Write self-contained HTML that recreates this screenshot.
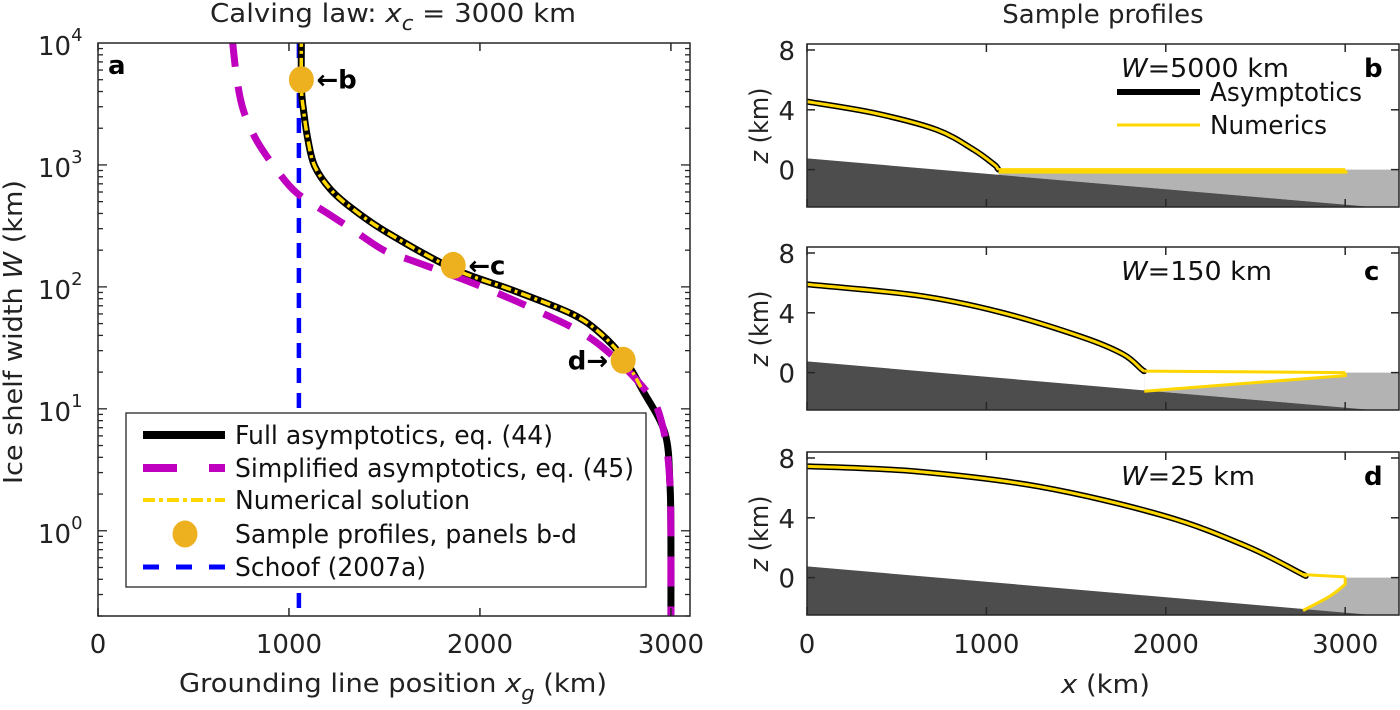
<!DOCTYPE html>
<html><head><meta charset="utf-8"><style>
html,body{margin:0;padding:0;background:#fff;}
svg{display:block;font-family:"DejaVu Sans","Liberation Sans",sans-serif;}
</style></head><body>
<svg id="fig" width="1400" height="710" viewBox="0 0 1400 710" xmlns="http://www.w3.org/2000/svg">
<defs>
<clipPath id="clipA"><rect x="98" y="43" width="592" height="573"/></clipPath>
<clipPath id="clip0"><rect x="807" y="44" width="592" height="163"/></clipPath>
<clipPath id="clip1"><rect x="807" y="247" width="592" height="163"/></clipPath>
<clipPath id="clip2"><rect x="807" y="452" width="592" height="163"/></clipPath>
</defs>
<g id="panelA"></g>
<g id="panelR"></g>
<text x="210" y="22" font-size="26" fill="#222" textLength="366" lengthAdjust="spacingAndGlyphs">Calving law: <tspan font-style="italic">x</tspan><tspan font-style="italic" font-size="20" dy="8">c</tspan><tspan dy="-8"> = 3000 km</tspan></text>
<text x="179" y="692" font-size="26" fill="#222" textLength="428" lengthAdjust="spacingAndGlyphs">Grounding line position <tspan font-style="italic">x</tspan><tspan font-style="italic" font-size="20" dy="8">g</tspan><tspan dy="-8"> (km)</tspan></text>
<text transform="translate(22,484) rotate(-90)" font-size="26" fill="#222" textLength="304" lengthAdjust="spacingAndGlyphs">Ice shelf width <tspan font-style="italic">W</tspan> (km)</text>
<text x="1103" y="23" font-size="26" fill="#222" text-anchor="middle">Sample profiles</text>
<text x="1061" y="693" font-size="26" fill="#222" textLength="89" lengthAdjust="spacingAndGlyphs"><tspan font-style="italic">x</tspan> (km)</text>
<text x="108" y="74" font-size="26" font-weight="bold" fill="#000">a</text>
</svg>
<script>
// ---------- Panel a data ----------
const xgTicks = [0, 1000, 2000, 3000];
const wTickExps = [0, 1, 2, 3, 4];
const fullXg = [1065,1065,1076,1100,1135,1217,1333,1520,1859,2175,2479,2630,2759,2853,2969,2995,3000,3000];
const fullLogW = [4.05,3.64,3.45,3.20,2.99,2.80,2.64,2.44,2.15,1.97,1.78,1.62,1.40,1.15,0.80,0.39,-0.02,-0.72];
const simpXg = [702,726,761,831,936,1041,1205,1333,1497,1637,1964,2292,2596,2853,2948,2995,3000,3000];
const simpLogW = [4.05,3.72,3.45,3.20,2.96,2.77,2.60,2.47,2.30,2.22,2.03,1.81,1.56,1.18,0.91,0.39,-0.57,-0.72];
const numXg = [1065,1065,1076,1100,1135,1217,1333,1520,1859,2175,2479,2630,2759,2853];
const numLogW = [4.05,3.64,3.45,3.20,2.99,2.80,2.64,2.44,2.15,1.97,1.78,1.62,1.40,1.15];
const sampleXg = [1065, 1860, 2750];
const sampleW = [5000, 150, 25];
const sampleLabels = ['b','c','d'];
const schoofXg = 1052;

// ---------- Right panels data ----------
const profXTicks = [0, 1000, 2000, 3000];
const profZTicks = [0, 4, 8];
const bedX = [0, 3300];
const bedZ = [0.75, -2.65];
const panelWLabels = ['5000','150','25'];
const surfX_b = [0,376,722,929,1045,1062,1068];
const surfZ_b = [4.55,3.78,2.67,1.33,0.32,0.08,0.0];
const shelfTopX_b = [1068,3000];
const shelfTopZ_b = [-0.05,-0.05];
const shelfBotX_b = [1068,3000];
const shelfBotZ_b = [-0.12,-0.12];
const surfX_c = [0,607,1069,1531,1761,1865,1880];
const surfZ_c = [5.9,5.18,4.07,2.39,1.24,0.22,0.1];
const shelfTopX_c = [1880,3000];
const shelfTopZ_c = [0.1,0.0];
const shelfBotX_c = [1880,3000];
const shelfBotZ_c = [-1.24,-0.2];
const surfX_d = [0,607,1297,1992,2454,2755,2765];
const surfZ_d = [7.45,7.1,6.08,4.13,2.08,0.27,0.2];
const shelfTopX_d = [2765,3000];
const shelfTopZ_d = [0.2,0.05];
const shelfBotX_d = [2765,2916,3000];
const shelfBotZ_d = [-2.2,-1.23,-0.45];

const NS = 'http://www.w3.org/2000/svg';
function mk(tag, attrs, parent){ const e=document.createElementNS(NS,tag); for(const k in attrs) e.setAttribute(k,attrs[k]); parent.appendChild(e); return e; }
function pathFrom(xs, ys, fx, fy){ return xs.map((x,i)=>(i?'L':'M')+fx(x).toFixed(1)+','+fy(ys[i]).toFixed(1)).join(' '); }
function smoothFrom(xs, ys, fx, fy){
  const P = xs.map((x,i)=>[fx(x), fy(ys[i])]);
  let d = 'M'+P[0][0].toFixed(1)+','+P[0][1].toFixed(1);
  for(let i=0;i<P.length-1;i++){
    const p0=P[Math.max(0,i-1)], p1=P[i], p2=P[i+1], p3=P[Math.min(P.length-1,i+2)];
    const c1=[p1[0]+(p2[0]-p0[0])/6, p1[1]+(p2[1]-p0[1])/6];
    const c2=[p2[0]-(p3[0]-p1[0])/6, p2[1]-(p3[1]-p1[1])/6];
    d += ' C'+c1[0].toFixed(1)+','+c1[1].toFixed(1)+' '+c2[0].toFixed(1)+','+c2[1].toFixed(1)+' '+p2[0].toFixed(1)+','+p2[1].toFixed(1);
  }
  return d;
}

// ===== Panel a =====
const A = {x0:98, x1:690, y0:43, y1:616, xmin:0, xmax:3100, lmin:Math.log10(0.2), lmax:4};
const ax = v => A.x0 + (v-A.xmin)/(A.xmax-A.xmin)*(A.x1-A.x0);
const ay = l => A.y0 + (A.lmax-l)/(A.lmax-A.lmin)*(A.y1-A.y0);
const gA = document.getElementById('panelA');
const dataA = mk('g',{'clip-path':'url(#clipA)'},gA);



let p = mk('path',{d:'M'+ax(schoofXg)+','+A.y0+' L'+ax(schoofXg)+','+A.y1, stroke:'#0000ff','stroke-width':4.5,'stroke-dasharray':'15 10',fill:'none'},dataA);


p = mk('path',{d:smoothFrom(fullXg,fullLogW,ax,ay),stroke:'#000','stroke-width':7,fill:'none','stroke-linejoin':'round'},dataA);


p = mk('path',{d:smoothFrom(simpXg,simpLogW,ax,ay),stroke:'#bf00bf','stroke-width':7,fill:'none','stroke-dasharray':'30 20'},dataA);


p = mk('path',{d:smoothFrom(numXg,numLogW,ax,ay),stroke:'#ffd700','stroke-width':3.5,fill:'none','stroke-dasharray':'10 4 3 4'},dataA);


sampleXg.forEach((x,i)=>{
  const c = mk('ellipse',{cx:ax(x),cy:ay(Math.log10(sampleW[i])),rx:12.5,ry:13.5,fill:'#edb120'},dataA);
  
  
});
const annot = [['b',1,'←b'],['c',1,'←c'],['d',-1,'d→']];
annot.forEach((a,i)=>{
  const cx=ax(sampleXg[i]), cy=ay(Math.log10(sampleW[i]));
  const t=mk('text',{x: a[1]>0? cx+15 : cx-15, y: cy+9,'font-size':26,'font-weight':'bold','text-anchor':a[1]>0?'start':'end',fill:'#000'},gA);
  t.textContent=a[2];
  
  
});
let box = mk('rect',{x:A.x0,y:A.y0,width:A.x1-A.x0,height:A.y1-A.y0,fill:'none',stroke:'#262626','stroke-width':1.5},gA);


xgTicks.forEach(v=>{
  const x=ax(v);
  mk('line',{x1:x,y1:A.y1,x2:x,y2:A.y1-8,stroke:'#262626','stroke-width':1.5},gA);
  mk('line',{x1:x,y1:A.y0,x2:x,y2:A.y0+8,stroke:'#262626','stroke-width':1.5},gA);
  const t=mk('text',{x:x,y:653,'font-size':26,'text-anchor':'middle',fill:'#222'},gA);
  t.textContent=v;
  
  
});
for(let dd=-1; dd<4; dd++){
  for(let m=1;m<10;m++){
    const l=dd+Math.log10(m);
    if(l<A.lmin-1e-9||l>A.lmax+1e-9) continue;
    const len = m===1?9:5, y=ay(l);
    mk('line',{x1:A.x0,y1:y,x2:A.x0+len,y2:y,stroke:'#262626','stroke-width':1.3},gA);
    mk('line',{x1:A.x1,y1:y,x2:A.x1-len,y2:y,stroke:'#262626','stroke-width':1.3},gA);
  }
}
wTickExps.forEach(e=>{
  const y=ay(e);
  const t=mk('text',{x:38,y:y+12,'font-size':26,fill:'#222'},gA);
  
  
  t.appendChild(document.createTextNode('10'));
  const s=mk('tspan',{'font-size':18,dy:-14},t);
  s.textContent=e;
});
// legend
const lg = mk('g',{},gA);


mk('rect',{x:126,y:413,width:520,height:174,fill:'#fff',stroke:'#262626','stroke-width':1.3},lg);
const legText = ['Full asymptotics, eq. (44)','Simplified asymptotics, eq. (45)','Numerical solution','Sample profiles, panels b-d','Schoof (2007a)'];
const legLen = [318,399,235,342,191];
const legKey = ['full','simplified','numerical','sample','schoof'];
const legY = [435,468,500,534,567];
legText.forEach((txt,i)=>{
  const y=legY[i];
  const g=mk('g',{},lg);
  
  
  if(i===0) mk('line',{x1:143,y1:y,x2:225,y2:y,stroke:'#000','stroke-width':8},g);
  if(i===1) mk('line',{x1:143,y1:y,x2:225,y2:y,stroke:'#bf00bf','stroke-width':8,'stroke-dasharray':'34 32'},g);
  if(i===2) mk('line',{x1:143,y1:y,x2:225,y2:y,stroke:'#ffd700','stroke-width':4,'stroke-dasharray':'12 4 4 4'},g);
  if(i===3) mk('ellipse',{cx:185,cy:y,rx:12.5,ry:13.5,fill:'#edb120'},g);
  if(i===4) mk('line',{x1:143,y1:y,x2:225,y2:y,stroke:'#0000ff','stroke-width':5,'stroke-dasharray':'16 17'},g);
  const t=mk('text',{x:235,y:y+9,'font-size':26,fill:'#111',textLength:legLen[i],lengthAdjust:'spacingAndGlyphs'},g);
  t.textContent=txt;
});

// ===== Right panels =====
const gR = document.getElementById('panelR');
const R = {x0:807, x1:1399, xmax:3300, zmin:-2.5, zmax:8.4, h:163};
const panelTops = [44, 247, 452];
const panelLetters = ['b','c','d'];
const surfXs=[surfX_b,surfX_c,surfX_d], surfZs=[surfZ_b,surfZ_c,surfZ_d];
const topXs=[shelfTopX_b,shelfTopX_c,shelfTopX_d], topZs=[shelfTopZ_b,shelfTopZ_c,shelfTopZ_d];
const botXs=[shelfBotX_b,shelfBotX_c,shelfBotX_d], botZs=[shelfBotZ_b,shelfBotZ_c,shelfBotZ_d];
const rx = v => R.x0 + v/R.xmax*(R.x1-R.x0);
const bedAt = x => bedZ[0] + (bedZ[1]-bedZ[0])*(x-bedX[0])/(bedX[1]-bedX[0]);

panelTops.forEach((pt,k)=>{
  const rz = z => pt + (R.zmax - z)/(R.zmax-R.zmin)*R.h;
  const g = mk('g',{},gR);
  
  
  const dg = mk('g',{'clip-path':'url(#clip'+k+')'},g);
  const xgL = surfXs[k][surfXs[k].length-1];
  const oc = mk('path',{d:'M'+rx(xgL)+','+rz(0)+' L'+rx(R.xmax)+','+rz(0)+' L'+rx(R.xmax)+','+rz(bedAt(R.xmax))+' L'+rx(xgL)+','+rz(bedAt(xgL))+' Z',fill:'#b3b3b3'},dg);
  
  
  const tx=topXs[k], tz=topZs[k], bx=botXs[k], bz=botZs[k];
  let sp = pathFrom(tx,tz,rx,rz);
  for(let i=bx.length-1;i>=0;i--) sp += ' L'+rx(bx[i]).toFixed(1)+','+rz(bz[i]).toFixed(1);
  const sh = mk('path',{d:sp+' Z',fill:'#fff'},dg);
  
  
  const bed = mk('path',{d:'M'+rx(bedX[0])+','+rz(bedZ[0])+' L'+rx(bedX[1])+','+rz(bedZ[1])+' L'+rx(bedX[1])+','+(pt+R.h+5)+' L'+rx(bedX[0])+','+(pt+R.h+5)+' Z',fill:'#4d4d4d'},dg);
  
  
  const sa = mk('path',{d:smoothFrom(surfXs[k],surfZs[k],rx,rz),stroke:'#000','stroke-width':6,fill:'none','stroke-linecap':'round'},dg);
  
  
  const sn = mk('path',{d:smoothFrom(surfXs[k],surfZs[k],rx,rz),stroke:'#ffd700','stroke-width':3,fill:'none'},dg);
  
  
  const thick = k===0?4.5:3;
  const st = mk('path',{d:pathFrom(tx,tz,rx,rz),stroke:'#ffd700','stroke-width':thick,fill:'none'},dg);
  
  
  const sb = mk('path',{d:smoothFrom(bx,bz,rx,rz)+' L'+rx(tx[tx.length-1]).toFixed(1)+','+rz(tz[tz.length-1]).toFixed(1),stroke:'#ffd700','stroke-width':thick,fill:'none'},dg);
  
  
  const bx0 = mk('rect',{x:R.x0,y:pt,width:R.x1-R.x0,height:R.h,fill:'none',stroke:'#262626','stroke-width':1.5},g);
  
  
  profXTicks.forEach(v=>{
    const x=rx(v);
    mk('line',{x1:x,y1:pt+R.h,x2:x,y2:pt+R.h-8,stroke:'#262626','stroke-width':1.5},g);
    mk('line',{x1:x,y1:pt,x2:x,y2:pt+8,stroke:'#262626','stroke-width':1.5},g);
    if(k===2){
      const t=mk('text',{x:x,y:653,'font-size':26,'text-anchor':'middle',fill:'#222'},g);
      t.textContent=v;
      
      
    }
  });
  profZTicks.forEach(v=>{
    const y=rz(v);
    mk('line',{x1:R.x0,y1:y,x2:R.x0+8,y2:y,stroke:'#262626','stroke-width':1.5},g);
    mk('line',{x1:R.x1,y1:y,x2:R.x1-8,y2:y,stroke:'#262626','stroke-width':1.5},g);
    const t=mk('text',{x:795,y:y+10,'font-size':26,'text-anchor':'end',fill:'#222'},g);
    t.textContent=v;
    
    
  });
  const yl = mk('text',{transform:'translate(768,'+(pt+R.h/2+38)+') rotate(-90)','font-size':26,fill:'#222',textLength:76,lengthAdjust:'spacingAndGlyphs'},g);
  
  
  const yi = mk('tspan',{'font-style':'italic'},yl);
  yi.textContent='z';
  yl.appendChild(document.createTextNode(' (km)'));
  const wl = [168,151,134][k];
  const wt = mk('text',{x:1121,y:pt+33,'font-size':26,fill:'#111',textLength:wl,lengthAdjust:'spacingAndGlyphs'},g);
  
  
  const wi = mk('tspan',{'font-style':'italic'},wt);
  wi.textContent='W';
  wt.appendChild(document.createTextNode('='+panelWLabels[k]+' km'));
  const lt = mk('text',{x:1364,y:pt+33,'font-size':26,'font-weight':'bold',fill:'#000'},g);
  lt.textContent=panelLetters[k];
  
  
  if(k===0){
    const lgb = mk('g',{},g);
    
    
    mk('line',{x1:1117,y1:92,x2:1200,y2:92,stroke:'#000','stroke-width':6},lgb);
    const t1=mk('text',{x:1210,y:101,'font-size':26,fill:'#111',textLength:152,lengthAdjust:'spacingAndGlyphs'},lgb);
    t1.textContent='Asymptotics';
    mk('line',{x1:1117,y1:125,x2:1200,y2:125,stroke:'#ffd700','stroke-width':3},lgb);
    const t2=mk('text',{x:1210,y:134,'font-size':26,fill:'#111',textLength:117,lengthAdjust:'spacingAndGlyphs'},lgb);
    t2.textContent='Numerics';
  }
});
</script>
</body></html>
